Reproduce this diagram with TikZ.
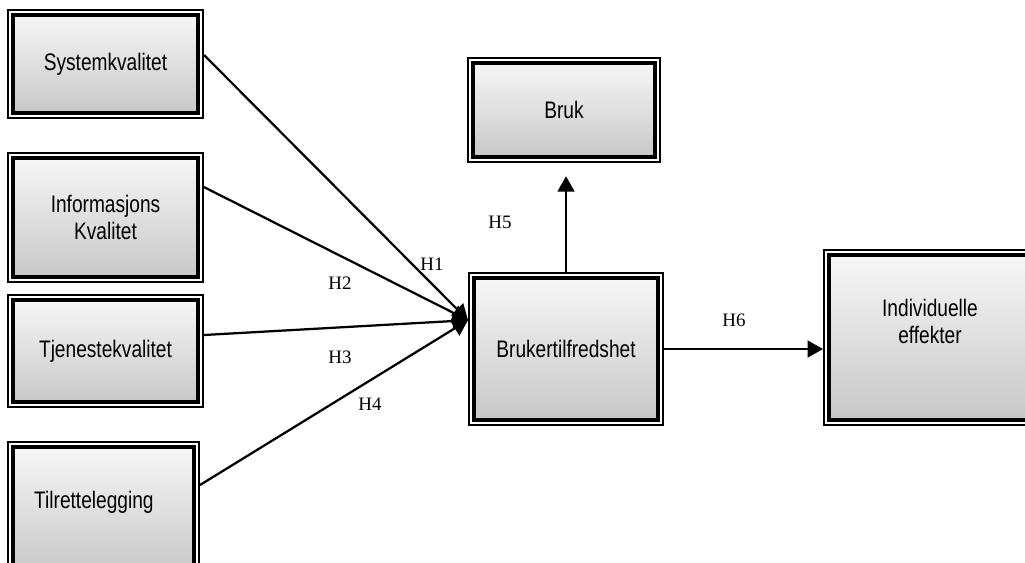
\documentclass[tikz,border=0pt]{standalone}
\usepackage{fontspec}
\setmainfont{Liberation Serif}
\newfontfamily\boxfont[FakeStretch=0.8]{Liberation Sans}
\usetikzlibrary{arrows.meta,positioning}

\tikzset{
  boxtext/.style={font=\boxfont\fontsize{17}{19}\selectfont},
  varbox/.style={boxtext, draw, line width=1.4pt, fill=white, align=center,
    path picture={
      % inner frame with the grey fade
      \draw[line width=2.8pt, top color=gray!5, bottom color=gray!45]
        ([shift={(0.125cm,0.125cm)}]path picture bounding box.south west) rectangle
        ([shift={(-0.125cm,-0.125cm)}]path picture bounding box.north east);
    }},
  hyp/.style={-{Triangle[length=11pt,width=12pt]}, line width=1.6pt},
  hlabel/.style={font=\fontsize{13.5}{15}\selectfont}
}

\begin{document}
\begin{tikzpicture}[x=0.025cm, y=-0.025cm]
\useasboundingbox (0,0) rectangle (1025,562);
\clip (0,0) rectangle (1025,562);

% kvalitetsfaktorer
\node[varbox, minimum width=4.875cm, minimum height=2.7cm] (sys) at (105.5,64) {Systemkvalitet};
\node[varbox, minimum width=4.875cm, minimum height=3.225cm] (info) at (105.5,217.5) {Informasjons\\Kvalitet};
\node[varbox, minimum width=4.875cm, minimum height=2.8cm] (tjen) at (105.5,351) {Tjenestekvalitet};
\node[varbox, minimum width=4.775cm, minimum height=3.4cm,
  label={[boxtext, xshift=-0.24cm, yshift=0.2cm]center:Tilrettelegging}] (tilr) at (103.5,510) {};

% bruk og tilfredshet
\node[varbox, minimum width=4.8cm, minimum height=2.6cm] (bruk) at (564,110) {Bruk};
\node[varbox, minimum width=4.85cm, minimum height=3.8cm] (bt) at (566,349) {Brukertilfredshet};
\node[varbox, minimum width=5.3cm, minimum height=4.375cm,
  label={[boxtext, align=center, yshift=0.4cm]center:Individuelle\\effekter}] (ind) at (930,337.5) {};

\coordinate (hub) at ([yshift=0.72cm]bt.west);

\draw[hyp] ([yshift=0.225cm]sys.east) -- (hub);
\draw[hyp] ([yshift=0.76cm]info.east) -- (hub);
\draw[hyp] ([yshift=0.4cm]tjen.east) -- (hub);
\draw[hyp] ([yshift=0.625cm]tilr.east) -- (hub);
\draw[hyp, shorten >=0.33cm] (bt.north) -- (bt.north |- bruk.south);
\draw[hyp] (bt.east) -- (bt.east -| ind.west);

% hypoteser
\node[hlabel] (h1) at (432,264) {H1};
\node[hlabel] (h2) at (340,283) {H2};
\node[hlabel] (h3) at (340,357) {H3};
\node[hlabel] (h4) at (370,404) {H4};
\node[hlabel] (h5) at (500,222) {H5};
\node[hlabel] (h6) at (734,320) {H6};

\end{tikzpicture}
\end{document}
